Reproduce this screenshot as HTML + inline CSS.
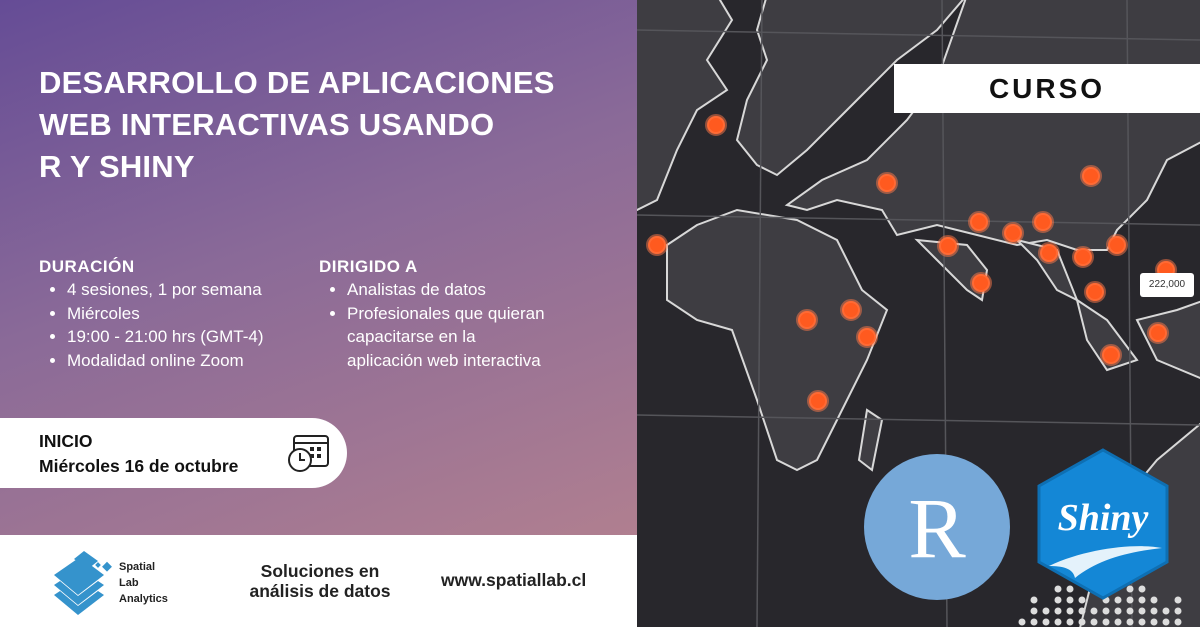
<!DOCTYPE html>
<html><head><meta charset="utf-8"><style>
body{margin:0;width:1200px;height:627px;overflow:hidden;font-family:"Liberation Sans",sans-serif;position:relative}
#left{position:absolute;left:0;top:0;width:637px;height:535px;background:linear-gradient(160deg,#654c96 0%,#8a6a98 45%,#b07f90 100%);color:#fff}
#right{position:absolute;left:637px;top:0;width:563px;height:627px;background:#28272c;overflow:hidden}
h1{position:absolute;left:39px;top:62px;margin:0;font-size:31px;line-height:42px;font-weight:bold;letter-spacing:0.2px;white-space:nowrap}
.sec{position:absolute;top:257px;font-size:17px}
.sec b{display:block;font-size:17px;letter-spacing:0.5px;margin-bottom:1px}
.sec ul{margin:0;padding-left:28px}
.sec li{line-height:23.5px}
#pill{position:absolute;left:0;top:418px;width:347px;height:70px;background:#fff;border-radius:0 35px 35px 0;color:#111}
#footer{position:absolute;left:0;top:535px;width:637px;height:92px;background:#fff;color:#222}
#curso{position:absolute;left:894px;top:64px;width:306px;height:49px;background:#fff;color:#111;font-weight:bold;font-size:28px;letter-spacing:3px;text-align:center;line-height:49px}
</style></head><body>
<div id="left">
<h1>DESARROLLO DE APLICACIONES<br>WEB INTERACTIVAS USANDO<br>R Y SHINY</h1>
<div class="sec" style="left:39px"><b>DURACIÓN</b><ul><li>4 sesiones, 1 por semana</li><li>Miércoles</li><li>19:00 - 21:00 hrs (GMT-4)</li><li>Modalidad online Zoom</li></ul></div>
<div class="sec" style="left:319px"><b>DIRIGIDO A</b><ul><li>Analistas de datos</li><li>Profesionales que quieran<br>capacitarse en la<br>aplicación web interactiva</li></ul></div>
</div>
<div id="pill">
<div style="position:absolute;left:39px;top:11px;font-weight:bold;font-size:17.5px;line-height:25px">INICIO<br>Miércoles 16 de octubre</div>
<svg style="position:absolute;left:286px;top:14px" width="46" height="42"><rect x="8" y="4" width="34" height="30" rx="3" fill="none" stroke="#222" stroke-width="2"/><line x1="8" y1="11" x2="42" y2="11" stroke="#222" stroke-width="2"/><g fill="#222"><rect x="24" y="15" width="4" height="4"/><rect x="31" y="15" width="4" height="4"/><rect x="24" y="22" width="4" height="4"/><rect x="31" y="22" width="4" height="4"/></g><circle cx="14" cy="28" r="11" fill="#fff" stroke="#222" stroke-width="2"/><path d="M14 21v7h5" fill="none" stroke="#222" stroke-width="2"/></svg>
</div>
<div id="footer">
<svg style="position:absolute;left:52px;top:14px" width="66" height="70"><g fill="#3593cc"><path d="M2 46l24 20 26-20-6-4-20 15-18-15z"/><path d="M2 36l24 20 26-20-6-4-20 15-18-15z"/><path d="M2 26l24 20 26-20-24-18z"/><path d="M22 10l10-8 14 10-10 8z"/><rect x="44" y="14" width="4" height="4" transform="rotate(45 46 16)"/><rect x="52" y="14" width="7" height="7" transform="rotate(45 55 17)"/><rect x="44" y="23" width="4" height="4" transform="rotate(45 46 25)"/></g></svg>
<div style="position:absolute;left:119px;top:24px;font-size:11px;font-weight:bold;line-height:16px">Spatial<br>Lab<br>Analytics</div>
<div style="position:absolute;left:240px;top:26px;font-size:17.5px;font-weight:bold;line-height:20px;text-align:center;width:160px">Soluciones en<br>análisis de datos</div>
<div style="position:absolute;left:441px;top:35px;font-size:17.5px;font-weight:bold">www.spatiallab.cl</div>
</div>
<div id="right">
<svg width="563" height="627" style="position:absolute;left:0;top:0">
<g fill="#3e3d42" stroke="#d8d8d8" stroke-width="2">
<path d="M-5 -5H80L95 20 70 60 90 90 60 110 40 150 20 200 0 210-5 210Z"/>
<path d="M130 -5H330L300 30 260 60 230 90 200 120 170 150 140 175 120 165 100 140 110 100 130 60 120 30Z"/>
<path d="M330 -5H568V140L530 160 510 200 480 230 470 250 440 250 410 240 380 245 340 235 300 225 260 235 245 210 200 200 170 210 150 205 185 180 230 160 270 120 300 80Z"/>
<path d="M30 245 60 225 100 210 160 220 200 240 225 290 250 310 230 360 200 420 180 460 160 470 140 460 120 400 95 330 60 320 30 300Z"/>
<path d="M280 240 330 245 350 270 345 300 330 290 300 260Z"/>
<path d="M380 240 420 250 440 300 420 290 400 260Z"/>
<path d="M440 300 470 320 500 360 470 370 450 340Z"/>
<path d="M500 320 540 310 568 300V380L520 360Z"/>
<path d="M568 420V640H440L470 520 520 460Z"/>
<path d="M230 410 245 420 235 470 222 460Z"/>
</g>
<g stroke="#55555a" stroke-width="1.5" fill="none"><line x1="0" y1="30" x2="563" y2="40"/><line x1="0" y1="215" x2="563" y2="225"/><line x1="0" y1="415" x2="563" y2="425"/><line x1="125" y1="0" x2="120" y2="627"/><line x1="305" y1="0" x2="310" y2="627"/><line x1="490" y1="0" x2="495" y2="627"/></g>
<g fill="#ddd" id="bdots"></g>
<g id="dots" fill="#ff5a1f"></g>
</svg>
<div style="position:absolute;left:503px;top:273px;width:54px;height:24px;background:#fff;border-radius:3px;font-size:10px;color:#333;text-align:center;line-height:24px">222,000</div>
<svg style="position:absolute;left:227px;top:454px" width="146" height="146"><circle cx="73" cy="73" r="73" fill="#76a8d8"/><text x="73" y="103" font-family="Liberation Serif,serif" font-size="86" fill="#fff" text-anchor="middle">R</text></svg>
<svg style="position:absolute;left:400px;top:448px" width="132" height="152"><polygon points="66,2 130,38 130,114 66,150 2,114 2,38" fill="#1487d6" stroke="#0e6fb3" stroke-width="3"/><text x="66" y="82" font-family="Liberation Serif,serif" font-style="italic" font-weight="bold" font-size="38" fill="#fff" text-anchor="middle">Shiny</text><path d="M12 118C50 100 100 95 125 100 90 104 60 112 38 130 36 120 25 118 12 118Z" fill="#e4f2fb"/></svg>
</div>
<div id="curso">CURSO</div>
<script>
const pts=[[716,125],[887,183],[1091,176],[657,245],[979,222],[1043,222],[948,246],[1013,233],[1049,253],[1083,257],[1117,245],[981,283],[1095,292],[851,310],[807,320],[867,337],[1111,355],[1158,333],[818,401],[1166,270]];
const g=document.getElementById('dots');
pts.forEach(p=>{const c=document.createElementNS('http://www.w3.org/2000/svg','circle');


c.setAttribute('cx',p[0]-637);c.setAttribute('cy',p[1]);c.setAttribute('r',9);c.setAttribute('stroke','#ff7a4a');c.setAttribute('stroke-opacity','0.5');c.setAttribute('stroke-width','4');g.appendChild(c);});
const b=document.getElementById('bdots');
[[0,1],[1,3],[2,2],[3,4],[4,4],[5,3],[6,2],[7,3],[8,3],[9,4],[10,4],[11,3],[12,2],[13,3]].forEach(([i,h])=>{for(let k=0;k<h;k++){const c=document.createElementNS('http://www.w3.org/2000/svg','circle');


c.setAttribute('cx',385+i*12);c.setAttribute('cy',622-k*11);c.setAttribute('r',3.5);b.appendChild(c);}});
</script>
</body></html>
